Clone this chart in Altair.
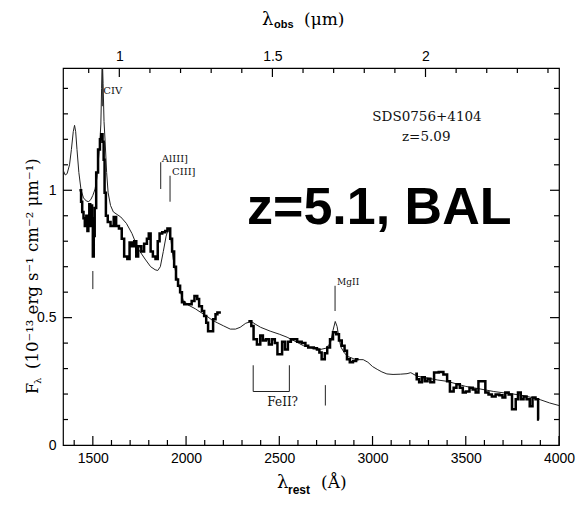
import altair as alt
import pandas as pd

# ---------------- data ----------------
Z = 5.09
LAM_MIN, LAM_MAX = 1340, 4000
F_MAX = 1.48

model_lam = [1340, 1352, 1362, 1375, 1385, 1395, 1402, 1408, 1415, 1425, 1437, 1450, 1465, 1478,
             1490, 1500, 1512, 1522, 1530, 1537, 1543, 1547, 1551, 1555, 1560, 1566, 1574, 1582,
             1595, 1610, 1630, 1650, 1680, 1710, 1743, 1780, 1810, 1834, 1848, 1862, 1878, 1893,
             1905, 1915, 1931, 1952, 1970, 1984, 2010, 2049, 2080, 2113, 2140, 2167, 2200, 2237,
             2265, 2290, 2320, 2350, 2370, 2400, 2451, 2500, 2542, 2590, 2629, 2680, 2720, 2750,
             2774, 2788, 2800, 2810, 2820, 2830, 2850, 2870, 2900, 2918, 2950, 2975, 3000, 3025,
             3050, 3077, 3110, 3150, 3185, 3205, 3239, 3300, 3350, 3400, 3450, 3500, 3577, 3650,
             3700, 3755, 3800, 3850, 3899, 3950, 4000]
model_flux = [1.08, 1.06, 1.065, 1.10, 1.16, 1.23, 1.255, 1.23, 1.16, 1.07, 1.00, 0.97, 0.958, 0.955,
              0.965, 0.98, 1.005, 1.05, 1.12, 1.18, 1.26, 1.40, 1.52, 1.42, 1.27, 1.19, 1.07, 0.99,
              0.94, 0.915, 0.905, 0.895, 0.87, 0.83, 0.77, 0.73, 0.70, 0.688, 0.685, 0.70, 0.76, 0.82,
              0.848, 0.83, 0.73, 0.65, 0.60, 0.57, 0.55, 0.535, 0.52, 0.505, 0.49, 0.48, 0.468, 0.455,
              0.455, 0.462, 0.478, 0.485, 0.475, 0.462, 0.447, 0.435, 0.423, 0.405, 0.39, 0.38, 0.375, 0.38,
              0.40, 0.45, 0.485, 0.465, 0.42, 0.385, 0.36, 0.347, 0.338, 0.335, 0.335, 0.325, 0.308, 0.297,
              0.287, 0.279, 0.277, 0.278, 0.28, 0.284, 0.27, 0.262, 0.255, 0.25, 0.24, 0.23, 0.22, 0.21,
              0.205, 0.20, 0.195, 0.187, 0.178, 0.165, 0.155]

obs1_lam = [1428, 1437, 1443, 1450, 1457, 1465, 1471, 1476, 1481, 1486, 1491, 1496, 1500, 1505, 1510,
            1518, 1528, 1538, 1545, 1552, 1558, 1563, 1570, 1580, 1595, 1612, 1625, 1640, 1655, 1668,
            1685, 1697, 1710, 1722, 1733, 1743, 1760, 1775, 1790, 1800, 1810, 1822, 1836, 1848, 1858,
            1872, 1888, 1900, 1915, 1925, 1936, 1946, 1957, 1968, 1978, 1990, 2030, 2045, 2060, 2070,
            2085, 2097, 2108, 2118, 2145, 2158, 2168, 2180]
obs1_flux = [1.00, 0.955, 0.915, 0.89, 0.86, 0.90, 0.84, 0.90, 0.945, 0.86, 0.94, 0.89, 0.74, 0.82, 0.93,
             1.07, 1.16, 1.20, 1.22, 1.19, 1.12, 0.99, 0.90, 0.875, 0.86, 0.895, 0.86, 0.85, 0.81, 0.74,
             0.73, 0.795, 0.78, 0.80, 0.74, 0.78, 0.76, 0.79, 0.81, 0.83, 0.76, 0.74, 0.73, 0.80, 0.83,
             0.835, 0.84, 0.85, 0.81, 0.76, 0.70, 0.65, 0.625, 0.60, 0.56, 0.553, 0.565, 0.585, 0.573, 0.545,
             0.526, 0.506, 0.48, 0.447, 0.494, 0.513, 0.52, 0.525]
obs2_lam = [2334, 2350, 2362, 2380, 2398, 2412, 2428, 2444, 2460, 2476, 2490, 2515, 2530, 2546, 2562,
            2596, 2620, 2640, 2655, 2685, 2702, 2715, 2727, 2744, 2757, 2772, 2788, 2805, 2820, 2835,
            2850, 2863, 2878, 2895, 2912, 2925]
obs2_flux = [0.486, 0.467, 0.415, 0.395, 0.43, 0.41, 0.415, 0.395, 0.415, 0.40, 0.356, 0.405, 0.375, 0.405, 0.415,
             0.405, 0.40, 0.39, 0.383, 0.38, 0.375, 0.363, 0.337, 0.36, 0.383, 0.415, 0.443, 0.435, 0.41, 0.39,
             0.37, 0.337, 0.325, 0.33, 0.337, 0.337]
obs3_lam = [3229, 3237, 3250, 3265, 3280, 3295, 3310, 3330, 3355, 3380, 3400, 3415, 3435, 3450, 3468,
            3484, 3500, 3520, 3537, 3553, 3568, 3605, 3622, 3640, 3660, 3680, 3697, 3712, 3730, 3748,
            3768, 3780, 3795, 3810, 3826, 3843, 3858, 3874, 3888, 3893]
obs3_flux = [0.28, 0.258, 0.246, 0.266, 0.25, 0.26, 0.246, 0.285, 0.287, 0.277, 0.25, 0.21, 0.225, 0.238, 0.225,
             0.206, 0.21, 0.225, 0.218, 0.206, 0.25, 0.206, 0.198, 0.19, 0.198, 0.195, 0.186, 0.206, 0.198, 0.14,
             0.18, 0.206, 0.18, 0.19, 0.18, 0.152, 0.186, 0.18, 0.10, 0.10]

mark_lam = [1500, 1551, 1864, 1914, 2799, 2747, 2360, 2554]
mark_lo = [0.612, 1.33, 1.005, 0.955, 0.526, 0.155, 0.21, 0.21]
mark_hi = [0.683, 1.48, 1.11, 1.057, 0.625, 0.235, 0.313, 0.313]
fe_left, fe_right, fe_level = 2360, 2554, 0.21

label_text = ["CIV", "AlIII]", "CIII]", "MgII", "FeII?"]
label_lam = [1556, 1870, 1925, 2810, 2436]
label_flux = [1.39, 1.124, 1.072, 0.64, 0.167]
label_size = [10, 10, 10, 9, 12]

obj_text = ["SDS0756+4104", "z=5.09"]
obj_lam = [3292, 3288]
obj_flux = [1.289, 1.211]

big_text = "z=5.1, BAL"
big_lam, big_flux = 2327, 0.868

x_major = [1500, 2000, 2500, 3000, 3500, 4000]
x_minor = [1400, 1600, 1700, 1800, 1900, 2100, 2200, 2300, 2400, 2600, 2700,
           2800, 2900, 3100, 3200, 3300, 3400, 3600, 3700, 3800, 3900]
y_major = [0.5, 1]
y_minor = [0.1, 0.2, 0.3, 0.4, 0.6, 0.7, 0.8, 0.9, 1.1, 1.2, 1.3, 1.4]
y_labels = [0, 0.5, 1]
um_major = [1, 1.5, 2]
um_minor = [0.9, 1.1, 1.2, 1.3, 1.4, 1.6, 1.7, 1.8, 1.9, 2.1, 2.2, 2.3, 2.4]

# ---------------- frames ----------------
W, H = 496, 377
MAJ, MIN = 9, 5
UM_MIN, UM_MAX = LAM_MIN * (1 + Z) / 1e4, LAM_MAX * (1 + Z) / 1e4

model_df = pd.DataFrame({"lam": model_lam, "flux": model_flux})
obs_df = pd.concat([
    pd.DataFrame({"lam": obs1_lam, "flux": obs1_flux, "seg": "a"}),
    pd.DataFrame({"lam": obs2_lam, "flux": obs2_flux, "seg": "b"}),
    pd.DataFrame({"lam": obs3_lam, "flux": obs3_flux, "seg": "c"}),
])
mark_df = pd.DataFrame({"lam": mark_lam, "lo": mark_lo, "hi": mark_hi})
fe_df = pd.DataFrame({"l1": [fe_left], "l2": [fe_right], "f": [fe_level]})
obj_df = pd.DataFrame({"lam": obj_lam, "flux": obj_flux, "t": obj_text})
big_df = pd.DataFrame({"lam": [big_lam], "flux": [big_flux], "t": [big_text]})
dummy = pd.DataFrame({"a": [0]})


def fy(px):
    return F_MAX * px / H


def fx(px):
    return (LAM_MAX - LAM_MIN) * px / W


def um_to_rest(u):
    return u * 1e4 / (1 + Z)


# inward tick segments in data units (drawn through the scales)
vt_rows = []
for v in x_major:
    vt_rows.append((v, 0.0, fy(MAJ)))
for v in x_minor:
    vt_rows.append((v, 0.0, fy(MIN)))
for u in um_major:
    vt_rows.append((um_to_rest(u), F_MAX - fy(MAJ), F_MAX))
for u in um_minor:
    vt_rows.append((um_to_rest(u), F_MAX - fy(MIN), F_MAX))
vtick_df = pd.DataFrame(vt_rows, columns=["tl", "ta", "tb"])
ht_rows = []
for v in y_major:
    ht_rows += [(v, LAM_MIN, LAM_MIN + fx(MAJ)), (v, LAM_MAX - fx(MAJ), LAM_MAX)]
for v in y_minor:
    ht_rows += [(v, LAM_MIN, LAM_MIN + fx(MIN)), (v, LAM_MAX - fx(MIN), LAM_MAX)]
htick_df = pd.DataFrame(ht_rows, columns=["tf", "tx1", "tx2"])

xs = alt.Scale(domain=[LAM_MIN, LAM_MAX], nice=False, zero=False)
ys = alt.Scale(domain=[0, F_MAX], nice=False, zero=False)
us = alt.Scale(domain=[UM_MIN, UM_MAX], nice=False, zero=False)


def lab_axis(orient, values, pad, fmt):
    return alt.Axis(orient=orient, values=values, ticks=False, domain=False,
                    grid=False, title=None, labelFont="Liberation Sans", labelFontSize=14,
                    labelColor="black", labelPadding=pad, format=fmt, labelFlush=False,
                    labelOverlap=False)


model = alt.Chart(model_df).mark_line(color="#222222", strokeWidth=1, clip=True).encode(
    x=alt.X("lam:Q", scale=xs, axis=lab_axis("bottom", x_major, 6, "d")),
    y=alt.Y("flux:Q", scale=ys, axis=lab_axis("left", y_labels, 7, "~g")),
)
obs = alt.Chart(obs_df).mark_line(color="black", strokeWidth=2.5, interpolate="step-after",
                                  clip=True).encode(
    x=alt.X("lam:Q", scale=xs, axis=None),
    y=alt.Y("flux:Q", scale=ys, axis=None),
    detail="seg:N",
)
top_labels = alt.Chart(model_df).transform_calculate(
    lam_um=f"datum.lam * {1 + Z} / 10000").mark_line(opacity=0).encode(
    x=alt.X("lam_um:Q", scale=us, axis=lab_axis("top", um_major, 5, "~g")),
    y=alt.Y("flux:Q", scale=ys, axis=None),
)

vticks = alt.Chart(vtick_df).mark_rule(color="black", strokeWidth=1.2).encode(
    x=alt.X("tl:Q", scale=xs, axis=None),
    y=alt.Y("ta:Q", scale=ys, axis=None),
    y2="tb:Q",
)
hticks = alt.Chart(htick_df).mark_rule(color="black", strokeWidth=1.2).encode(
    x=alt.X("tx1:Q", scale=xs, axis=None),
    x2="tx2:Q",
    y=alt.Y("tf:Q", scale=ys, axis=None),
)

rules = alt.Chart(mark_df).mark_rule(color="#222222", strokeWidth=1).encode(
    x=alt.X("lam:Q", scale=xs, axis=None),
    y=alt.Y("lo:Q", scale=ys, axis=None),
    y2="hi:Q",
)
fe_rule = alt.Chart(fe_df).mark_rule(color="#222222", strokeWidth=1).encode(
    x=alt.X("l1:Q", scale=xs, axis=None),
    x2="l2:Q",
    y=alt.Y("f:Q", scale=ys, axis=None),
)

label_layers = []
for t, l, f, s in zip(label_text, label_lam, label_flux, label_size):
    d = pd.DataFrame({"lam": [l], "flux": [f], "t": [t]})
    label_layers.append(
        alt.Chart(d).mark_text(align="left", baseline="middle", font="DejaVu Serif",
                               fontSize=s, color="#111111").encode(
            x=alt.X("lam:Q", scale=xs, axis=None),
            y=alt.Y("flux:Q", scale=ys, axis=None),
            text="t:N",
        )
    )

obj = alt.Chart(obj_df).mark_text(align="center", baseline="middle", font="DejaVu Serif",
                                  fontSize=13.5, color="#111111").encode(
    x=alt.X("lam:Q", scale=xs, axis=None),
    y=alt.Y("flux:Q", scale=ys, axis=None),
    text="t:N",
)
big = alt.Chart(big_df).mark_text(align="left", baseline="alphabetic", font="Liberation Sans",
                                  fontWeight="bold", fontSize=52, color="black").encode(
    x=alt.X("lam:Q", scale=xs, axis=None),
    y=alt.Y("flux:Q", scale=ys, axis=None),
    text="t:N",
)


def txt(s, px, py, size, font="DejaVu Serif", weight="normal", angle=0):
    return alt.Chart(dummy).mark_text(text=s, align="left", baseline="middle", font=font,
                                      fontSize=size, fontWeight=weight, angle=angle,
                                      color="black").encode(x=alt.value(px), y=alt.value(py))


# plot origin at (63, 68) in the page
titles = [
    txt("λ", 199, -48, 18),
    txt("obs", 211, -43, 11, font="Liberation Sans", weight="bold"),
    txt("(μm)", 241, -48, 17),
    txt("λ", 214, 415, 18),
    txt("rest", 225, 422, 12, font="Liberation Sans", weight="bold"),
    txt("(Å)", 258, 415, 17),
    txt("F", -30, 326, 16, angle=270),
    txt("λ", -25, 316, 10, angle=270),
    txt("(10⁻¹³ erg s⁻¹ cm⁻² μm⁻¹)", -30, 301, 16.5, angle=270),
]

chart = alt.layer(
    top_labels, model, obs, rules, fe_rule, *label_layers, obj, big, *titles, vticks, hticks
).resolve_scale(x="independent", y="independent").properties(
    width=W, height=H,
    autosize=alt.AutoSizeParams(type="none"),
    padding={"left": 63, "top": 68, "right": 19, "bottom": 61},
    background="white",
).configure_view(stroke="black", strokeWidth=1.2)

chart.save("out.html", embed_options={"renderer": "svg", "actions": False})
